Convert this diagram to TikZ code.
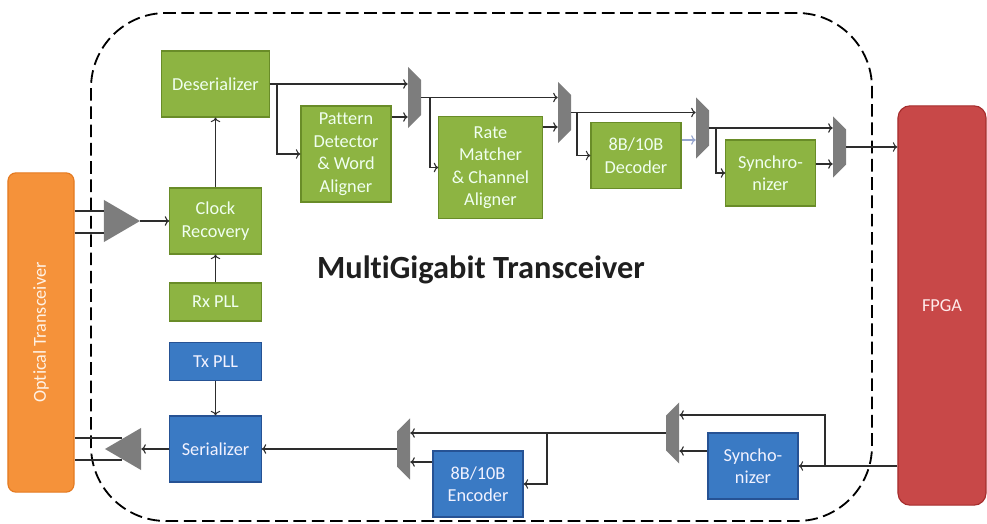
\documentclass[tikz,border=0pt]{standalone}
\usepackage{fontspec}
\setmainfont{Carlito}[Ligatures=NoCommon]
\usepackage{tikz}
\usepackage{xcolor}
\usetikzlibrary{arrows.meta}
\usetikzlibrary{calc}

\definecolor{boxgreen}{RGB}{141,180,66}
\definecolor{linegreen}{RGB}{105,140,40}
\definecolor{boxblue}{RGB}{58,122,196}
\definecolor{lineblue}{RGB}{38,82,148}
\definecolor{boxorange}{RGB}{245,146,58}
\definecolor{lineorange}{RGB}{228,122,32}
\definecolor{boxred}{RGB}{200,72,72}
\definecolor{linered}{RGB}{165,45,45}
\definecolor{muxgray}{RGB}{125,125,125}
\definecolor{wire}{RGB}{45,45,45}
\definecolor{paleblue}{RGB}{150,165,205}

\begin{document}
\begin{tikzpicture}[x=0.025cm, y=-0.025cm,
	rxbox/.style={fill=boxgreen, draw=linegreen, line width=0.8pt, shape=rectangle, align=center, text=green!6!white, font=\fontsize{13}{16}\selectfont, inner sep=1pt},
	txbox/.style={rxbox, fill=boxblue, draw=lineblue, text=blue!5!white},
	mux/.style={inner sep=0pt, minimum width=0.325cm, minimum height=1.525cm, path picture={\fill [muxgray] (path picture bounding box.north west) -- ([yshift=-0.325cm]path picture bounding box.north east) -- ([yshift=0.325cm]path picture bounding box.south east) -- (path picture bounding box.south west) -- cycle;}},
	muxr/.style={inner sep=0pt, minimum width=0.325cm, minimum height=1.525cm, path picture={\fill [muxgray] ([yshift=-0.325cm]path picture bounding box.north west) -- (path picture bounding box.north east) -- (path picture bounding box.south east) -- ([yshift=0.325cm]path picture bounding box.south west) -- cycle;}},
	amp/.style={inner sep=0pt, minimum width=0.9cm, minimum height=1.05cm, path picture={\fill [muxgray] (path picture bounding box.north west) -- (path picture bounding box.east) -- (path picture bounding box.south west) -- cycle;}},
	ampl/.style={inner sep=0pt, minimum width=0.9cm, minimum height=1.05cm, path picture={\fill [muxgray] (path picture bounding box.north east) -- (path picture bounding box.west) -- (path picture bounding box.south east) -- cycle;}},
	wire/.style={draw=wire, line width=0.75pt}]
	\useasboundingbox (0,0) rectangle (987,524);
	% transceiver outline
	\draw [line width=1.3pt, dash pattern=on 9pt off 4pt, rounded corners=1.875cm] (91,13) rectangle (872,521);
	% blocks
	\node [rxbox, minimum width=2.68cm, minimum height=1.65cm] (0) at (215.5, 84) {Deserializer};
	\node [rxbox, minimum width=2.28cm, minimum height=1.65cm] (1) at (215.5, 221) {Clock\\Recovery};
	\node [rxbox, minimum width=2.28cm, minimum height=0.95cm] (2) at (215.5, 302) {Rx PLL};
	\node [txbox, minimum width=2.28cm, minimum height=0.93cm] (3) at (215.5, 361.5) {Tx PLL};
	\node [txbox, minimum width=2.28cm, minimum height=1.65cm] (4) at (215.5, 449) {Serializer};
	\node [rxbox, minimum width=2.25cm, minimum height=2.4cm] (5) at (346, 154) {Pattern\\Detector\\\& Word\\Aligner};
	\node [rxbox, minimum width=2.58cm, minimum height=2.53cm] (6) at (490.5, 167.5) {Rate\\Matcher\\\& Channel\\Aligner};
	\node [rxbox, minimum width=2.25cm, minimum height=1.63cm] (7) at (636, 155.5) {8B/10B\\Decoder};
	\node [rxbox, minimum width=2.23cm, minimum height=1.65cm] (8) at (770.5, 173) {Synchro-\\nizer};
	\node [txbox, minimum width=2.25cm, minimum height=1.65cm] (9) at (753, 466) {Syncho-\\nizer};
	\node [txbox, minimum width=2.25cm, minimum height=1.65cm] (10) at (478, 484) {8B/10B\\Encoder};
	\node [fill=boxorange, draw=lineorange, line width=0.8pt, rounded corners=0.2cm, text=orange!10!white, font=\fontsize{13}{16}\selectfont, minimum width=1.65cm, minimum height=7.98cm] (11) at (41, 332.5) {\rotatebox{90}{Optical Transceiver}};
	\node [fill=boxred, draw=linered, line width=0.8pt, rounded corners=0.3cm, text=red!8!white, font=\fontsize{13}{16}\selectfont, minimum width=2.2cm, minimum height=9.98cm] (12) at (942, 305.5) {FPGA};
	\node [mux] (13) at (414.5, 97.5) {};
	\node [mux] (14) at (564.5, 112.5) {};
	\node [mux] (15) at (702.5, 128) {};
	\node [mux] (16) at (839.5, 147) {};
	\node [muxr] (17) at (672.5, 433) {};
	\node [muxr] (18) at (403.5, 449) {};
	\node [amp] (19) at (122, 221) {};
	\node [ampl] (20) at (123, 449) {};
	\node [font=\bfseries\fontsize{23}{28}\selectfont, text=black!88] (21) at (481, 270) {MultiGigabit Transceiver};
	% receive path
	\draw [wire] (11.east |- 0,211) -- (19.west |- 0,211);
	\draw [wire] (11.east |- 0,233) -- (19.west |- 0,233);
	\draw [wire, ->] (19.east) -- (1.west);
	\draw [wire, ->] (2) to (1);
	\draw [wire, ->] (1) to (0);
	\draw [wire, ->] (0.east) -- (0.east -| 13.west);
	\draw [wire, ->] (0.east -| 277,0) |- (5.west);
	\draw [wire, ->] (5.east |- 0,117) -- (13.west |- 0,117);
	\draw [wire, ->] (13.east) -- (13.east -| 14.west);
	\draw [wire, ->] (13.east -| 430,0) |- (6.west);
	\draw [wire, ->] (6.east |- 0,127) -- (14.west |- 0,127);
	\draw [wire, ->] (14.east) -- (14.east -| 15.west);
	\draw [wire, ->] (14.east -| 577,0) |- (7.west);
	\draw [wire, draw=paleblue, ->] (7.east |- 0,140) -- (15.west |- 0,140);
	\draw [wire, ->] (15.east) -- (15.east -| 16.west);
	\draw [wire, ->] (15.east -| 716,0) |- (8.west);
	\draw [wire, ->] (8.east |- 0,164) -- (16.west |- 0,164);
	\draw [wire, ->] (16.east) -- (16.east -| 12.west);
	% transmit path
	\draw [wire, ->] (12.west |- 9.east) -- (9.east);
	\draw [wire, ->] (9.east -| 825,0) |- (17.east |- 0,415);
	\draw [wire, ->] (9.west |- 0,451) -- (17.east |- 0,451);
	\draw [wire, ->] (17.west) -- (17.west -| 18.east);
	\draw [wire, ->] (17.west -| 547,0) |- (10.east);
	\draw [wire, ->] (10.west |- 0,462) -- (18.east |- 0,462);
	\draw [wire, ->] (18.west) -- (4.east);
	\draw [wire, ->] (3) to (4);
	\draw [wire, ->] (4.west) -- (20.east);
	\draw [wire] ($(20.west |- 0,438)+(17,0)$) -- (11.east |- 0,438);
	\draw [wire] ($(20.west |- 0,460)+(17,0)$) -- (11.east |- 0,460);
\end{tikzpicture}
\end{document}
